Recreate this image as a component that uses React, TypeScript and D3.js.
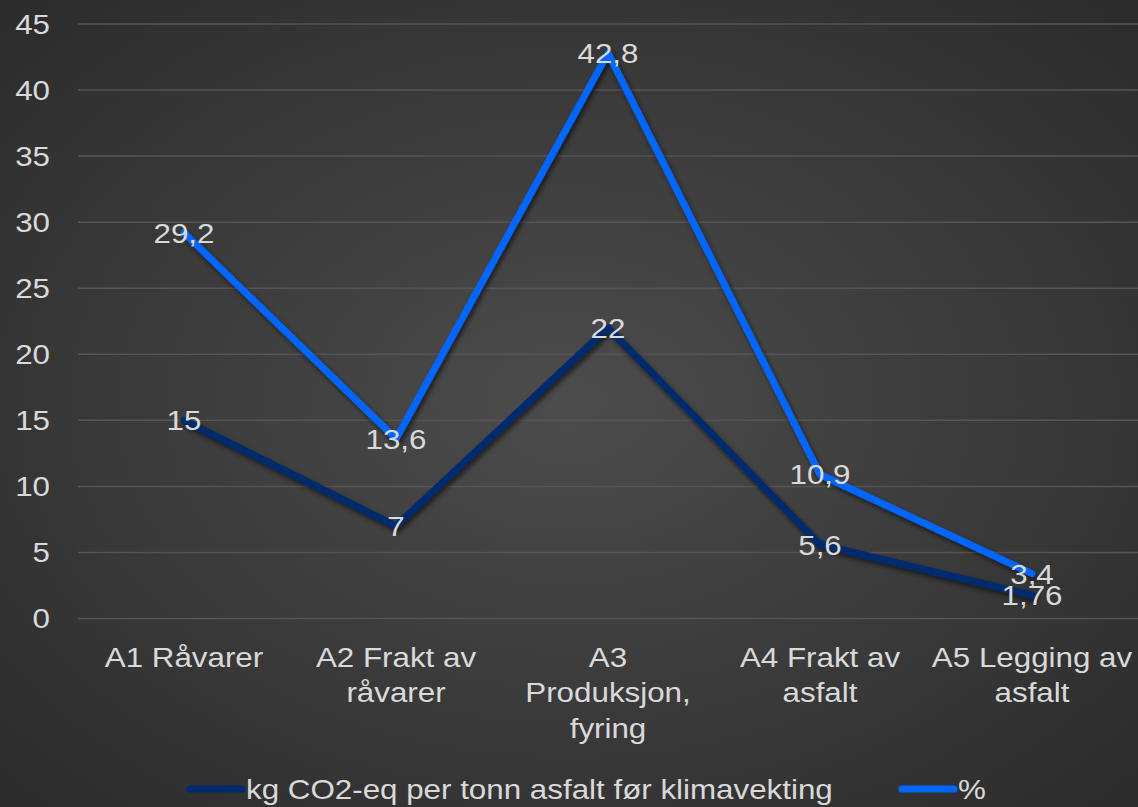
import React from "react";
import * as d3 from "d3";

const categories: string[][] = [
  ["A1 Råvarer"],
  ["A2 Frakt av", "råvarer"],
  ["A3", "Produksjon,", "fyring"],
  ["A4 Frakt av", "asfalt"],
  ["A5 Legging av", "asfalt"],
];
const kgValues = [15, 7, 22, 5.6, 1.76];
const pctValues = [29.2, 13.6, 42.8, 10.9, 3.4];
const kgLabels = ["15", "7", "22", "5,6", "1,76"];
const pctLabels = ["29,2", "13,6", "42,8", "10,9", "3,4"];
const yTicks = [0, 5, 10, 15, 20, 25, 30, 35, 40, 45];
const seriesNames = ["kg CO2-eq per tonn asfalt før klimavekting", "%"];

const W = 1138;
const H = 807;
const FONT = "'Liberation Sans', Arial, sans-serif";
const TXT = "#d9d9d9";
const DARK = "#002a6e";
const BLUE = "#0066ff";
const FS = 28.5;
const SX = 1.1;

function T(props: { x: number; y: number; anchor?: string; children: React.ReactNode }) {
  return (
    <g transform={`translate(${props.x},${props.y}) scale(${SX},1)`}>
      <text
        x={0}
        y={0}
        textAnchor={props.anchor || "middle"}
        dominantBaseline="central"
        fontSize={FS}
        fill={TXT}
      >
        {props.children}
      </text>
    </g>
  );
}

export default function App() {
  const x = d3
    .scaleBand<number>()
    .domain(d3.range(categories.length))
    .range([78, 1138]);
  const y = d3.scaleLinear().domain([0, 45]).range([618.5, 24]);
  const cx = (i: number) => (x(i) as number) + x.bandwidth() / 2;
  const line = d3
    .line<number>()
    .x((_, i) => cx(i))
    .y((d) => y(d));

  const series = [
    { vals: kgValues, labels: kgLabels, color: DARK },
    { vals: pctValues, labels: pctLabels, color: BLUE },
  ];

  return (
    <svg
      width={W}
      height={H}
      style={{ position: "absolute", left: 0, top: 0 }}
      fontFamily={FONT}
    >
      <defs>
        <radialGradient id="bg" cx="50%" cy="50%" r="75%">
          <stop offset="0%" stopColor="#4c4c4c" />
          <stop offset="100%" stopColor="#292929" />
        </radialGradient>
        <filter id="sh" x="-10%" y="-10%" width="120%" height="120%">
          <feDropShadow dx="2" dy="3" stdDeviation="2.5" floodColor="#000" floodOpacity="0.6" />
        </filter>
      </defs>
      <rect width={W} height={H} fill="url(#bg)" />
      {yTicks.map((t) => (
        <g key={t}>
          <line x1={78} x2={1138} y1={y(t)} y2={y(t)} stroke="#555555" strokeWidth={1.5} />
          <T x={50} y={y(t)} anchor="end">
            {t}
          </T>
        </g>
      ))}
      {categories.map((lines, i) =>
        lines.map((l, j) => (
          <T key={`${i}-${j}`} x={cx(i)} y={657 + j * 35.5}>
            {l}
          </T>
        ))
      )}
      {series.map((s, k) => (
        <path
          key={k}
          d={line(s.vals) || ""}
          fill="none"
          stroke={s.color}
          strokeWidth={7}
          strokeLinecap="round"
          strokeLinejoin="round"
          filter="url(#sh)"
        />
      ))}
      {series.map((s, k) =>
        s.vals.map((v, i) => (
          <T key={`${k}-${i}`} x={cx(i)} y={y(v)}>
            {s.labels[i]}
          </T>
        ))
      )}
      <g>
        <line x1={190} x2={242} y1={789} y2={789} stroke={DARK} strokeWidth={7} strokeLinecap="round" />
        <T x={246} y={789} anchor="start">
          {seriesNames[0]}
        </T>
        <line x1={902} x2={954} y1={789} y2={789} stroke={BLUE} strokeWidth={7} strokeLinecap="round" />
        <T x={958} y={789} anchor="start">
          {seriesNames[1]}
        </T>
      </g>
    </svg>
  );
}
